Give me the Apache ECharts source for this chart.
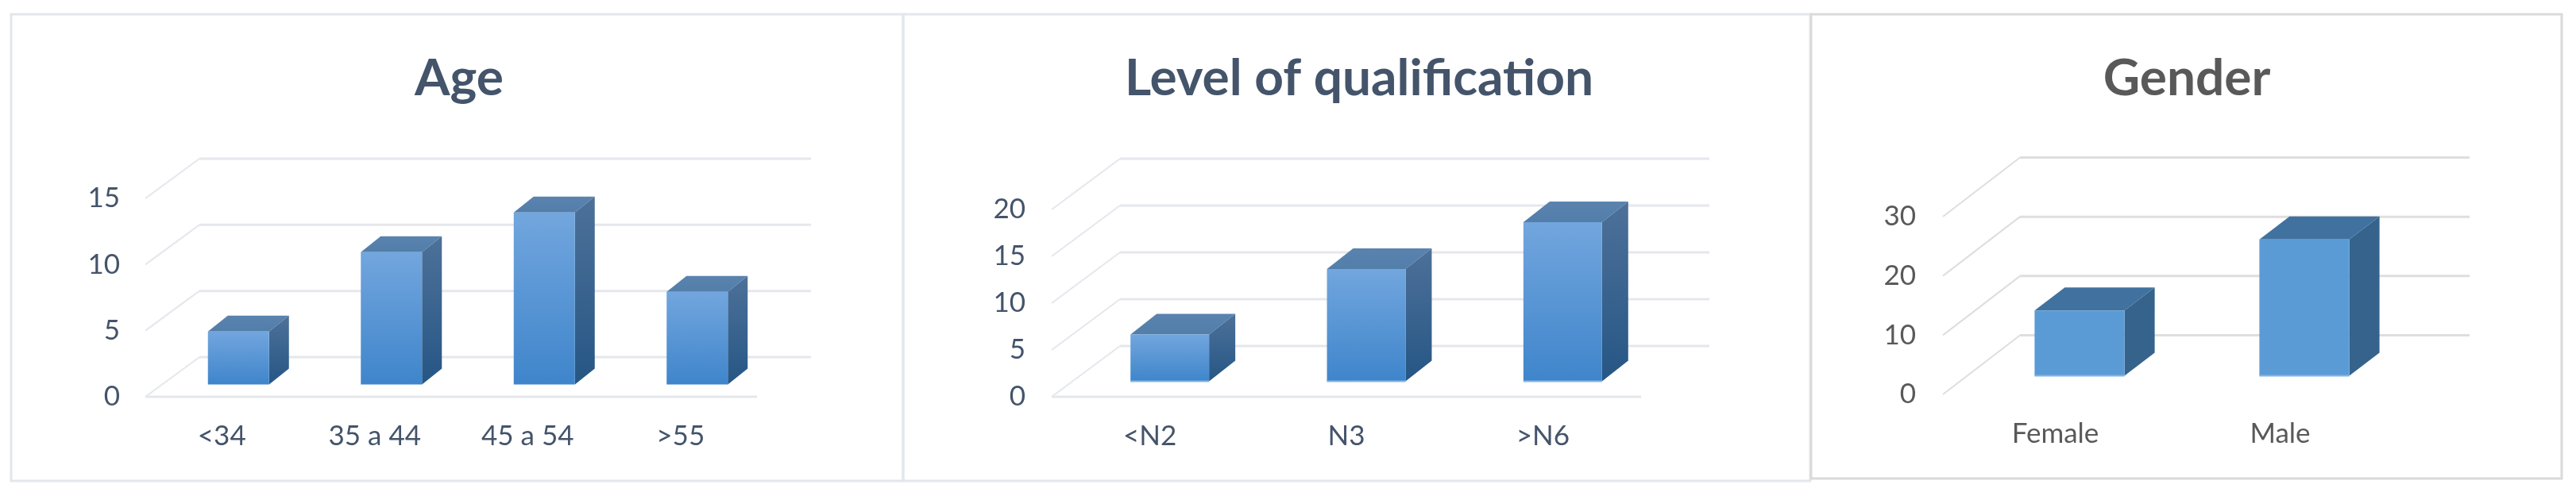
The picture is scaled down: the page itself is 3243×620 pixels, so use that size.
<!DOCTYPE html>
<html>
<head>
<meta charset="utf-8">
<style>html,body{margin:0;padding:0;background:#fff}#c{width:3243px;height:620px}</style>
<script src="https://cdn.jsdelivr.net/npm/echarts@6/dist/echarts.min.js"></script>
</head>
<body>
<div id="c"></div>
<script>
// ---- data ----
const ageTitle = 'Age';
const ageCategories = ['<34', '35 a 44', '45 a 54', '>55'];
const ageValues = [4, 10, 13, 7];
const ageTicks = [0, 5, 10, 15];

const qualTitle = 'Level of qualification';
const qualCategories = ['<N2', 'N3', '>N6'];
const qualValues = [5, 12, 17];
const qualTicks = [0, 5, 10, 15, 20];

const genderTitle = 'Gender';
const genderCategories = ['Female', 'Male'];
const genderValues = [11, 23];
const genderTicks = [0, 10, 20, 30];

// ---- layout and style, kept apart from the data ----
const FONT = 'Lato';
const bluePalette = {
  text: '#44546A', title: '#44546A', grid: '#E5E7ED', frame: '#E3E6EC',
  front: ['#72A6DE', '#3F85CB'], top: ['#5A83AE', '#527EAA'], side: ['#4D7199', '#265685']
};
const flatPalette = {
  text: '#595959', title: '#595959', grid: '#DEDEDE', frame: '#DADADA',
  front: ['#5B9BD5', '#5B9BD5'], top: ['#41729F', '#41729F'], side: ['#35638C', '#35638C']
};
const panels = [
  { title: ageTitle, cats: ageCategories, vals: ageValues, ticks: ageTicks, pal: bluePalette,
    left: 183, right: 953, top: 250, bottom: 500, depth: [68, 50], off: [21, 15.5], bar: [25, 20],
    titleX: 573, labelMargin: 32, floor: true, rim: null },
  { title: qualTitle, cats: qualCategories, vals: qualValues, ticks: qualTicks, pal: bluePalette,
    left: 1324, right: 2066, top: 264, bottom: 500, depth: [86, 64], off: [25, 19.5], bar: [33, 26],
    titleX: 1706, labelMargin: 33, floor: true, rim: '#86B5E4' },
  { title: genderTitle, cats: genderCategories, vals: genderValues, ticks: genderTicks, pal: flatPalette,
    left: 2446, right: 3012, top: 273, bottom: 497, depth: [97, 74.5], off: [30.5, 23.5], bar: [38, 29],
    titleX: 2748, labelMargin: 34, floor: false, rim: '#86B5E4' }
];
const frames = [
  { x: 14, y: 18, w: 1123, h: 588, color: bluePalette.frame },
  { x: 1137, y: 18, w: 1142, h: 588, color: bluePalette.frame },
  { x: 2280, y: 18, w: 945, h: 585, color: flatPalette.frame }
];

const chart = echarts.init(document.getElementById('c'));
const vGrad = (c) => new echarts.graphic.LinearGradient(0, 0, 0, 1, [
  { offset: 0, color: c[0] }, { offset: 1, color: c[1] }
]);

const grid = [], xAxis = [], yAxis = [], series = [], title = [];
panels.forEach((p, i) => {
  grid.push({ left: p.left, top: p.top, width: p.right - p.left, height: p.bottom - p.top, containLabel: false });
  xAxis.push({
    gridIndex: i, type: 'category', data: p.cats,
    axisLine: { show: false }, axisTick: { show: false }, splitLine: { show: false },
    axisLabel: { fontFamily: FONT, fontSize: 35, color: p.pal.text, margin: 32, interval: 0 }
  });
  yAxis.push({
    gridIndex: i, type: 'value', min: 0, max: p.ticks[p.ticks.length - 1],
    interval: p.ticks[1] - p.ticks[0],
    axisLine: { show: false }, axisTick: { show: false }, splitLine: { show: false },
    axisLabel: { fontFamily: FONT, fontSize: 35, color: p.pal.text, margin: p.labelMargin, padding: [4, 0, 0, 0] }
  });
  title.push({
    text: p.title, left: p.titleX, top: 62, textAlign: 'center',
    textStyle: { fontFamily: FONT, fontSize: 64, fontWeight: 'bold', color: p.pal.title }
  });
  // gridlines: one polyline for each tick, placed through the value axis
  series.push({
    type: 'custom', xAxisIndex: i, yAxisIndex: i, clip: false, silent: true, z: 1,
    data: p.ticks.map((t) => [0, t]),
    encode: { x: 0, y: 1 },
    renderItem(params, api) {
      const y = api.coord([0, api.value(1)])[1];
      const cs = params.coordSys;
      const [dx, dy] = p.depth;
      const children = [
        { type: 'line', shape: { x1: cs.x, y1: y, x2: cs.x + dx, y2: y - dy },
          style: { stroke: p.pal.grid, lineWidth: 2 } },
        { type: 'line', shape: { x1: cs.x + dx, y1: y - dy, x2: cs.x + cs.width + dx, y2: y - dy },
          style: { stroke: p.pal.grid, lineWidth: 3 } }
      ];
      if (p.floor && api.value(1) === 0) {
        children.push({ type: 'line', shape: { x1: cs.x, y1: y, x2: cs.x + cs.width, y2: y },
          style: { stroke: p.pal.grid, lineWidth: 3 } });
      }
      return { type: 'group', children };
    }
  });
  // 3D bars: three faces for each value, placed through both axes
  series.push({
    type: 'custom', xAxisIndex: i, yAxisIndex: i, clip: false, z: 2,
    data: p.vals.map((v, k) => [k, v]),
    encode: { x: 0, y: 1 },
    renderItem(params, api) {
      const k = api.value(0), v = api.value(1);
      const topPt = api.coord([k, v]);
      const basePt = api.coord([k, 0]);
      const w = api.size([1, 0])[0] * 0.4;
      const x0 = topPt[0] - w / 2 + p.off[0];
      const x1 = x0 + w;
      const yT = topPt[1] - p.off[1];
      const yB = basePt[1] - p.off[1];
      const [bx, by] = p.bar;
      const children = [
        { type: 'polygon', shape: { points: [[x0, yT], [x1, yT], [x1 + bx, yT - by], [x0 + bx, yT - by]] },
          style: { fill: vGrad(p.pal.top) } },
        { type: 'polygon', shape: { points: [[x1, yT], [x1 + bx, yT - by], [x1 + bx, yB - by], [x1, yB]] },
          style: { fill: vGrad(p.pal.side) } },
        { type: 'rect', shape: { x: x0, y: yT, width: w, height: yB - yT },
          style: { fill: vGrad(p.pal.front) } }
      ];
      if (p.rim) {
        children.push({ type: 'rect', shape: { x: x0, y: yB - 1, width: w, height: 2 }, style: { fill: p.rim } });
      }
      return { type: 'group', children };
    }
  });
});

chart.setOption({
  animation: false,
  backgroundColor: '#ffffff',
  title, grid, xAxis, yAxis, series,
  graphic: frames.map((f) => ({
    type: 'rect', silent: true, z: 0,
    shape: { x: f.x, y: f.y, width: f.w, height: f.h },
    style: { fill: 'none', stroke: f.color, lineWidth: 3 }
  }))
});
</script>
</body>
</html>
